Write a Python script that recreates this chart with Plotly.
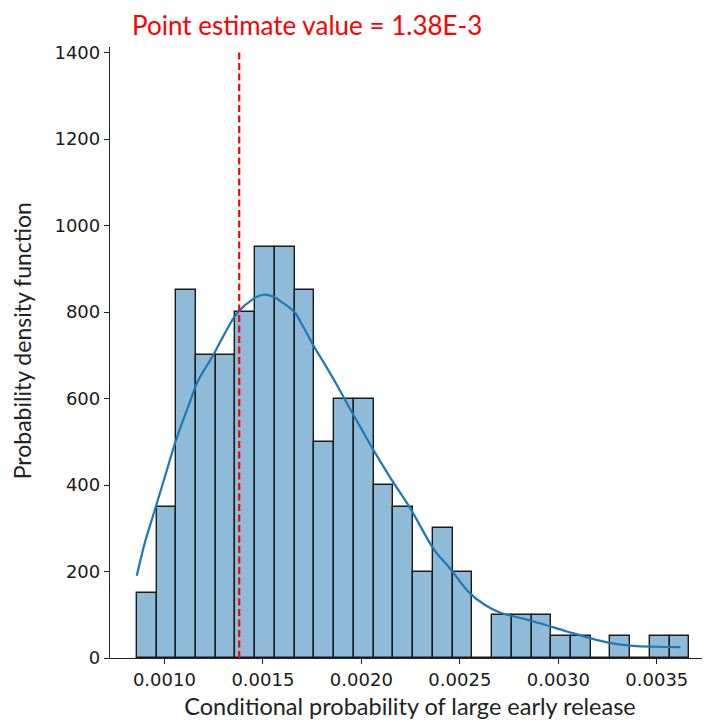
import numpy as np
import plotly.graph_objects as go

# ---- data ----
bin_start = 0.00086
bin_width = 0.0001002
density = [150, 350, 850, 700, 700, 800, 950, 950, 850, 500, 600, 600, 400, 350,
           200, 300, 200, 0, 100, 100, 100, 50, 50, 0, 50, 0, 50, 50]

kde_x = [0.00086, 0.00090, 0.00095, 0.00100, 0.00106, 0.00112, 0.00117, 0.00125,
         0.00130, 0.00137, 0.00145, 0.00150, 0.00155, 0.00160, 0.00166, 0.00170,
         0.00176, 0.00182, 0.00188, 0.00194, 0.00200, 0.00206, 0.00215, 0.00225,
         0.00237, 0.00245, 0.00255, 0.00263, 0.00270, 0.00287, 0.00304, 0.00316,
         0.00326, 0.00338, 0.00350, 0.00362]
kde_y = [190, 265, 340, 415, 505, 580, 640, 702,
         745, 798, 830, 840, 836, 822, 800, 770,
         720, 675, 628, 578, 530, 482, 415, 345,
         250, 207, 150, 122, 106, 85, 62, 46,
         35, 28, 26, 25]

point_estimate = 0.00138
annotation_text = "Point estimate value = 1.38E-3"
x_title = "Conditional probability of large early release"
y_title = "Probability density function"
x_ticks = [0.0010, 0.0015, 0.0020, 0.0025, 0.0030, 0.0035]
x_tick_labels = ["0.0010", "0.0015", "0.0020", "0.0025", "0.0030", "0.0035"]
y_ticks = [0, 200, 400, 600, 800, 1000, 1200, 1400]

centers = bin_start + bin_width * (np.arange(len(density)) + 0.5)

fig = go.Figure()
fig.add_trace(go.Bar(
    x=centers, y=density, width=bin_width,
    marker=dict(color="#8fbbd9", line=dict(color="#1a1a1a", width=1.4)),
    showlegend=False,
))
fig.add_trace(go.Scatter(
    x=kde_x, y=kde_y, mode="lines", line=dict(color="#1f77b4", width=2.2, shape="spline"),
    showlegend=False,
))
fig.add_trace(go.Scatter(
    x=[point_estimate, point_estimate], y=[0, 1402], mode="lines",
    line=dict(color="#ff0000", width=2.2, dash="7px,3.5px"),
    showlegend=False,
))

fig.add_annotation(
    x=0.000827, y=1.036, xref="x", yref="paper", xanchor="left", yanchor="middle",
    text=annotation_text, showarrow=False,
    font=dict(family="Lato, sans-serif", size=26, color="#ff0000"),
)
fig.add_annotation(
    x=-0.1467, y=0.52, xref="paper", yref="paper", xanchor="center", yanchor="middle",
    text=y_title, textangle=-90, showarrow=False,
    font=dict(family="Lato, sans-serif", size=23, color="#222"),
)

tick_font = dict(family="DejaVu Sans, sans-serif", size=18, color="#1a1a1a")
# page body has an 8px default margin, so the figure is 8px smaller
fig.update_layout(
    width=702, height=712,
    margin=dict(l=102, r=0, t=39, b=62),
    paper_bgcolor="white", plot_bgcolor="white",
    bargap=0,
    xaxis=dict(
        range=[0.000724, 0.00377], automargin=False,
        tickvals=x_ticks, ticktext=x_tick_labels,
        ticks="outside", ticklen=5, tickwidth=1.2, tickcolor="#222",
        showline=True, linecolor="#222", linewidth=1.3,
        showgrid=False, zeroline=False, tickfont=tick_font,
        title=dict(text=x_title, standoff=11,
                   font=dict(family="Lato, sans-serif", size=23.5, color="#222")),
    ),
    yaxis=dict(
        range=[0, 1413], automargin=False,
        tickvals=y_ticks,
        ticks="outside", ticklen=5, tickwidth=1.2, tickcolor="#222",
        showline=True, linecolor="#222", linewidth=1.3,
        showgrid=False, zeroline=False, tickfont=tick_font,
    ),
)

fig.write_html("out.html")
